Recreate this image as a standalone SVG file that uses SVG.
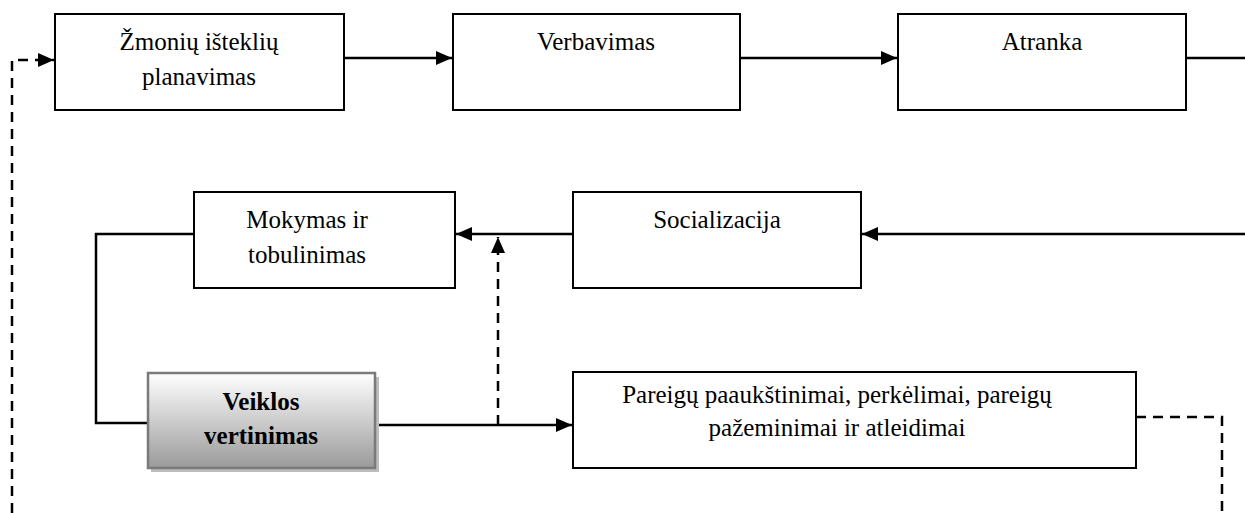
<svg xmlns="http://www.w3.org/2000/svg" width="1245" height="513" viewBox="0 0 1245 513">
<style>
.box{fill:#fff;stroke:#000;stroke-width:2}
text{font-family:'Liberation Serif','Times New Roman',Times,serif;font-size:25px;fill:#000;text-anchor:middle}
.b{font-weight:bold}
.ln{fill:none;stroke:#000;stroke-width:2.5}
.ds{stroke-dasharray:10,7}
</style>
<defs>
<marker id="ah" viewBox="0 0 16 14" refX="16" refY="7" markerWidth="16" markerHeight="14" markerUnits="userSpaceOnUse" orient="auto">
<path d="M0,0 L16,7 L0,14 Z" fill="#000"/>
</marker>
<linearGradient id="g" x1="0" y1="0" x2="0" y2="1">
<stop offset="0" stop-color="#ffffff"/>
<stop offset="1" stop-color="#9a9a9a"/>
</linearGradient>
</defs>
<g id="connectors">
<path class="ln" d="M344,58 H452" marker-end="url(#ah)"/>
<path class="ln" d="M740,58 H897" marker-end="url(#ah)"/>
<path class="ln" d="M1186,58 H1245"/>
<path class="ln" d="M1245,234 H862" marker-end="url(#ah)"/>
<path class="ln" d="M573,234 H456" marker-end="url(#ah)"/>
<path class="ln" d="M194,234 H96 V423 H147"/>
<path class="ln" d="M375,425 H572" marker-end="url(#ah)"/>
<path class="ln ds" d="M498,425 V237" marker-end="url(#ah)"/>
<path class="ln ds" d="M1136,417 H1222 V513"/>
<path class="ln ds" d="M12,513 V60 H54" marker-end="url(#ah)"/>
</g>
<g id="n1"><rect class="box" x="55" y="14" width="289" height="96"/><text x="199" y="50">Žmonių išteklių</text><text x="199" y="85">planavimas</text></g>
<g id="n2"><rect class="box" x="453" y="14" width="287" height="96"/><text x="596" y="50">Verbavimas</text></g>
<g id="n3"><rect class="box" x="898" y="14" width="288" height="96"/><text x="1042" y="50">Atranka</text></g>
<g id="n4"><rect class="box" x="194" y="192" width="261" height="96"/><text x="307" y="228">Mokymas ir</text><text x="307" y="263">tobulinimas</text></g>
<g id="n5"><rect class="box" x="573" y="192" width="288" height="96"/><text x="717" y="228">Socializacija</text></g>
<g id="n6"><rect x="151" y="377" width="228" height="95" fill="#bdbdbd"/><rect x="148" y="373" width="227" height="95" fill="url(#g)" stroke="#7a7a7a" stroke-width="2.5"/><text class="b" x="261" y="410">Veiklos</text><text class="b" x="261" y="444">vertinimas</text></g>
<g id="n7"><rect class="box" x="573" y="372" width="563" height="96"/><text x="837" y="403">Pareigų paaukštinimai, perkėlimai, pareigų</text><text x="837" y="436">pažeminimai ir atleidimai</text></g>
</svg>
